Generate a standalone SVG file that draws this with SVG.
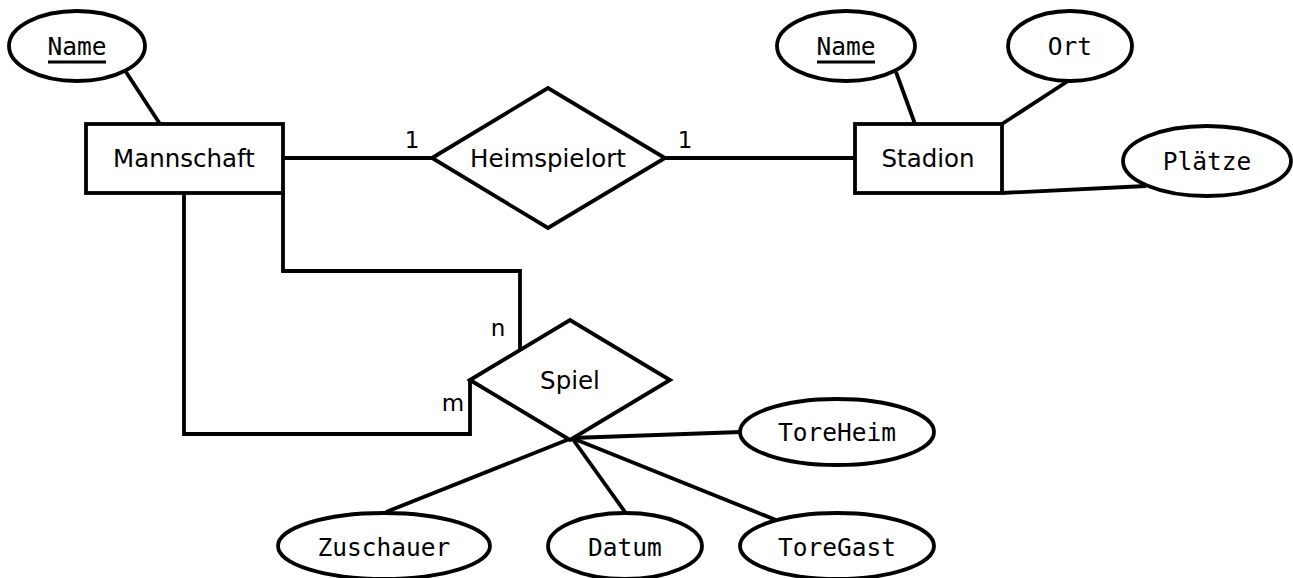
<svg xmlns="http://www.w3.org/2000/svg" width="1293" height="578" viewBox="0 0 1293 578">
<style>
.shape{fill:#fff;stroke:#000;stroke-width:3.8}
.conn{fill:none;stroke:#000;stroke-width:3.8;stroke-linejoin:miter}
.ent{font-family:"DejaVu Sans",sans-serif;font-size:24.5px;text-anchor:middle;dominant-baseline:central}
.att{font-family:"DejaVu Sans Mono",monospace;font-size:24.5px;text-anchor:middle;dominant-baseline:central}
.lbl{font-family:"DejaVu Sans",sans-serif;font-size:23px;text-anchor:middle}
.ul{stroke:#000;stroke-width:3}
</style>
<rect width="1293" height="578" fill="#fff"/>
<g id="connectors">
<line class="conn" x1="126" y1="72" x2="160" y2="124"/>
<line class="conn" x1="283" y1="158" x2="432" y2="158"/>
<line class="conn" x1="665" y1="158" x2="855" y2="158"/>
<line class="conn" x1="896" y1="72" x2="915" y2="124"/>
<line class="conn" x1="1068" y1="81" x2="1002" y2="124"/>
<line class="conn" x1="1002" y1="193" x2="1146" y2="186"/>
<polyline class="conn" points="283,193 283,271 520,271 520,350"/>
<polyline class="conn" points="184,193 184,434 470,434 470,380"/>
<line class="conn" x1="572" y1="438" x2="741" y2="432"/>
<line class="conn" x1="572" y1="438" x2="386" y2="512"/>
<line class="conn" x1="572" y1="438" x2="625" y2="512"/>
<line class="conn" x1="572" y1="438" x2="776" y2="520"/>
<line class="conn" x1="470" y1="380" x2="572" y2="438"/>
<text class="lbl" x="412" y="148">1</text>
<text class="lbl" x="685" y="148">1</text>
<text class="lbl" x="498" y="336">n</text>
<text class="lbl" x="453" y="411">m</text>
</g>
<g id="mannschaft-name">
<ellipse class="shape" cx="77" cy="46" rx="68" ry="35"/>
<text class="att" x="77" y="46">Name</text>
<line class="ul" x1="48" y1="62" x2="106" y2="62"/>
</g>
<g id="mannschaft">
<rect class="shape" x="86" y="124" width="197" height="69"/>
<text class="ent" x="184" y="158">Mannschaft</text>
</g>
<g id="heimspielort">
<polygon class="shape" points="432,158 548,88 665,158 548,228"/>
<text class="ent" x="548" y="158">Heimspielort</text>
</g>
<g id="stadion">
<rect class="shape" x="855" y="124" width="147" height="69"/>
<text class="ent" x="928" y="158">Stadion</text>
</g>
<g id="stadion-name">
<ellipse class="shape" cx="846" cy="46" rx="69" ry="35"/>
<text class="att" x="846" y="46">Name</text>
<line class="ul" x1="817" y1="62" x2="875" y2="62"/>
</g>
<g id="ort">
<ellipse class="shape" cx="1070" cy="46" rx="62" ry="35"/>
<text class="att" x="1070" y="46">Ort</text>
</g>
<g id="plaetze">
<ellipse class="shape" cx="1207" cy="161" rx="84" ry="35"/>
<text class="att" x="1207" y="161">Plätze</text>
</g>
<g id="spiel">
<polygon class="shape" points="470,380 570,320 670,380 570,440"/>
<text class="ent" x="570" y="380">Spiel</text>
</g>
<g id="toreheim">
<ellipse class="shape" cx="837" cy="432" rx="97" ry="33"/>
<text class="att" x="837" y="432">ToreHeim</text>
</g>
<g id="zuschauer">
<ellipse class="shape" cx="384" cy="546" rx="106" ry="33"/>
<text class="att" x="384" y="547">Zuschauer</text>
</g>
<g id="datum">
<ellipse class="shape" cx="625" cy="546" rx="77" ry="33"/>
<text class="att" x="625" y="547">Datum</text>
</g>
<g id="toregast">
<ellipse class="shape" cx="837" cy="546" rx="97" ry="33"/>
<text class="att" x="837" y="547">ToreGast</text>
</g>
</svg>
